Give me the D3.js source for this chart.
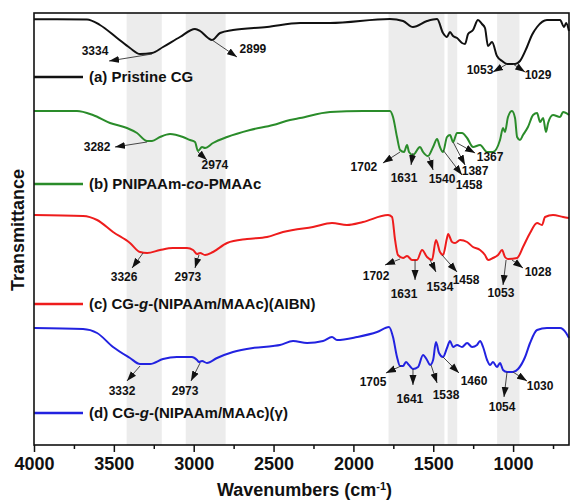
<!DOCTYPE html>
<html>
<head>
<meta charset="utf-8">
<script src="https://cdn.jsdelivr.net/npm/d3@7"></script>
<style>
  body { margin: 0; background: #fff; }
  svg text { font-family: "Liberation Sans", Arial, sans-serif; font-weight: bold; fill: #111; }
</style>
</head>
<body>
<div id="chart"></div>
<script>
// FTIR spectra, [wavenumber cm-1, transmittance a.u. (stacked)]
var pristineCG = [
  [4000,212.9],[3668,212.8],[3587,210],[3480,203.5],[3399,198.5],[3336,195.5],[3261,196],[3192,199],
  [3086,204],[2992,208],[2960,207],[2910,203.5],[2885,202.5],[2835,206],[2754,207.5],[2541,209],
  [2334,211],[2146,211],[1771,213],[1689,212],[1627,209],[1539,212],[1476,213],[1439,206],[1414,204],
  [1395,206.5],[1376,204.5],[1351,203.5],[1320,201],[1301,200.5],[1282,205.5],[1251,207.5],[1220,212.5],
  [1195,210.5],[1176,208.5],[1157,199.5],[1132,201.5],[1101,194.5],[1069,192],[1038,190.5],[988,190.5],
  [957,192],[913,199],[882,205],[850,209],[788,212.5],[706,212.5],[681,209],[668,211],[650,207]
];
var pnipaamPmaac = [
  [4000,167],[3731,167],[3631,165],[3524,161],[3418,158.5],[3355,156],[3292,152],[3261,152],[3211,154],
  [3148,155.5],[3067,154],[3023,152.5],[2992,151.5],[2973,147],[2948,149],[2929,148.5],[2879,151],
  [2791,154],[2647,157.5],[2503,160],[2397,162.5],[2334,163.5],[2146,166.5],[1940,167],[1771,167],
  [1752,164],[1727,154],[1708,147.5],[1683,146.5],[1664,150],[1652,146.5],[1627,145],[1583,149],
  [1564,146.5],[1533,144.5],[1501,149],[1476,153],[1458,149],[1439,146.5],[1414,154],[1395,155],
  [1376,151.5],[1351,156],[1320,156],[1288,153.5],[1251,149],[1207,150],[1163,146.5],[1126,146.5],
  [1082,152.5],[1063,158.5],[1051,156.5],[1032,164],[1007,167],[988,163.5],[975,154],[957,152.5],
  [938,155],[907,159],[875,165],[850,166],[831,161.5],[812,163.5],[794,156.5],[781,161],[750,165],
  [706,164],[687,166.5],[650,165]
];
var cgAibn = [
  [4000,115],[3693,114.5],[3605,112.5],[3505,106.5],[3399,101],[3336,96.5],[3292,96],[3211,97.5],
  [3130,98.5],[3042,98.5],[3004,97.5],[2979,95.5],[2960,96],[2929,95],[2879,96.5],[2791,101],[2666,103],
  [2541,104],[2441,106.5],[2378,107.5],[2253,109],[2134,111],[2040,110],[1940,111.5],[1783,115],
  [1758,114],[1739,102.5],[1721,95],[1689,93.5],[1664,94.5],[1633,92.5],[1602,92.5],[1570,97.5],
  [1539,94],[1508,92.5],[1483,102.5],[1458,96.5],[1439,95],[1414,103.5],[1407,105.5],[1382,101.5],
  [1363,101],[1332,102.5],[1288,101.5],[1251,99],[1207,97.5],[1176,95],[1157,92.5],[1126,93.5],
  [1094,95],[1069,97.5],[1051,94],[1032,93],[975,93.5],[938,99],[894,106],[850,111],[819,110],
  [800,114],[750,115],[687,114],[650,113.5]
];
var cgGamma = [
  [4000,58.5],[3693,58],[3605,56],[3505,49],[3399,43.5],[3336,40.5],[3274,40.5],[3192,43],[3105,44],
  [3011,44],[2979,42.5],[2967,41.5],[2948,42],[2917,41],[2854,43.5],[2754,46.5],[2629,48.5],[2503,49.5],
  [2460,50],[2378,52],[2290,51],[2190,52],[2134,54],[2103,52.5],[1977,54],[1852,56.5],[1777,59],
  [1752,54],[1727,44],[1708,39.5],[1689,39.5],[1671,41.5],[1652,40],[1627,38],[1595,39],[1564,45],
  [1539,42.5],[1520,40],[1501,42.5],[1483,51.5],[1464,46],[1439,44],[1414,48.5],[1395,52],[1376,49],
  [1351,50],[1320,49],[1288,51],[1257,49],[1226,50],[1207,52],[1188,49],[1163,42.5],[1144,40],
  [1126,41.5],[1101,39],[1082,41],[1063,37.5],[1038,36.5],[1001,36.5],[969,38],[925,44],[894,51],
  [850,57.5],[788,58.5],[706,58.5],[668,56],[650,53.5]
];

var seriesNames = ["(a) Pristine CG", "(b) PNIPAAm-co-PMAAc", "(c) CG-g-(NIPAAm/MAAc)(AIBN)", "(d) CG-g-(NIPAAm/MAAc)(\u03b3)"];
var seriesColors = ["#111111", "#2a8c2a", "#ee1c1c", "#2222e0"];
var legendLevels = [184, 130.5, 70.5, 16];

// shaded regions [from, to] cm-1
var bands = [[3420,3200],[3050,2800],[1780,1430],[1410,1350],[1100,960]];

var majorTicks = [4000,3500,3000,2500,2000,1500,1000];
var minorTicks = [3750,3250,2750,2250,1750,1250,750];

// peak labels: text, peak point, arrow tip, label centre
var peakLabels = [
  ["3334",[3261,195.5],[3530,192],[3618,197]],
  ["2899",[2885,202.5],[2729,194],[2629,198]],
  ["1053",[1038,190.5],[1126,186.5],[1207,187.5]],
  ["1029",[1001,190.5],[925,186.5],[844,185]],
  ["3282",[3292,151.5],[3493,149],[3605,149]],
  ["2974",[2973,146.5],[2917,142.5],[2867,140]],
  ["1702",[1708,146.5],[1815,141],[1934,139]],
  ["1631",[1627,146],[1639,140],[1683,133.5]],
  ["1540",[1527,144],[1501,137.5],[1445,133]],
  ["1458",[1439,147.5],[1320,135],[1276,130]],
  ["1387",[1376,151.5],[1301,140],[1238,137]],
  ["1367",[1351,151],[1238,146],[1144,144]],
  ["3326",[3317,96],[3386,88.5],[3436,84]],
  ["2973",[2967,95],[2992,88.5],[3036,84]],
  ["1702",[1708,93],[1802,90],[1858,84.5]],
  ["1631",[1614,92.5],[1614,82.5],[1683,75.5]],
  ["1534",[1520,92.5],[1483,86.5],[1458,79]],
  ["1458",[1445,95],[1351,86.5],[1295,82.5]],
  ["1053",[1044,92.5],[1063,80],[1076,76]],
  ["1028",[1007,92.5],[938,88.5],[844,86.5]],
  ["3332",[3336,39.5],[3418,32],[3449,27]],
  ["2973",[2960,41],[3017,32],[3054,27]],
  ["1705",[1702,39.5],[1796,36],[1877,31.5]],
  ["1641",[1627,38],[1627,30],[1646,23]],
  ["1538",[1514,40],[1476,31],[1420,25]],
  ["1460",[1439,44],[1339,36],[1245,32]],
  ["1054",[1038,36.5],[1057,24],[1069,19]],
  ["1030",[1001,36.5],[913,32],[831,29.5]]
];

var width = 570, height = 501;
var margin = { top: 13, right: 1, bottom: 56, left: 34 };
var w = width - margin.left - margin.right;
var h = height - margin.top - margin.bottom;

var svg = d3.select("#chart").append("svg")
  .attr("width", width)
  .attr("height", height);

var defs = svg.append("defs");
defs.append("marker")
  .attr("id", "arrow")
  .attr("markerUnits", "userSpaceOnUse")
  .attr("viewBox", "0 -4 10 8")
  .attr("refX", 10).attr("refY", 0)
  .attr("markerWidth", 10).attr("markerHeight", 8)
  .attr("orient", "auto")
  .append("path")
  .attr("d", "M0,-3.5L10,0L0,3.5Z")
  .attr("fill", "#111");

var g = svg.append("g").attr("transform", "translate(" + margin.left + "," + margin.top + ")");

var x = d3.scaleLinear().domain([4000, 650]).range([0, w]);
var y = d3.scaleLinear().domain([0, 216]).range([h, 0]);

// grey bands
g.selectAll("rect.band")
  .data(bands)
  .enter()
  .append("rect")
  .attr("class", "band")
  .attr("x", function (d) { return x(d[0]); })
  .attr("y", 0)
  .attr("width", function (d) { return x(d[1]) - x(d[0]); })
  .attr("height", h)
  .attr("fill", "#ececec");

// spectra
var line = d3.line()
  .x(function (d) { return x(d[0]); })
  .y(function (d) { return y(d[1]); })
  .curve(d3.curveMonotoneX);

var spectra = [pristineCG, pnipaamPmaac, cgAibn, cgGamma];
g.selectAll("path.spec")
  .data(spectra)
  .enter()
  .append("path")
  .attr("class", "spec")
  .attr("d", line)
  .attr("fill", "none")
  .attr("stroke", function (d, i) { return seriesColors[i]; })
  .attr("stroke-width", 2)
  .attr("stroke-linejoin", "round");

// legend rows
var legend = g.selectAll("g.leg")
  .data(seriesNames)
  .enter()
  .append("g")
  .attr("class", "leg")
  .attr("transform", function (d, i) { return "translate(0," + y(legendLevels[i]) + ")"; });
legend.append("line")
  .attr("x1", 0).attr("x2", 49)
  .attr("stroke", function (d, i) { return seriesColors[i]; })
  .attr("stroke-width", 2.5);
legend.append("text")
  .attr("x", 55)
  .attr("dy", "0.36em")
  .style("font-size", "15px")
  .each(function (d) {
    // italic connecting letters (co, g)
    var t = d3.select(this);
    var parts = d.split(/(-co-|-g-)/);
    parts.forEach(function (p) {
      if (p === "-co-" || p === "-g-") {
        t.append("tspan").text("-");
        t.append("tspan").style("font-style", "italic").text(p.slice(1, -1));
        t.append("tspan").text("-");
      } else {
        t.append("tspan").text(p);
      }
    });
  });

// peak arrows + labels
var peaks = g.selectAll("g.peak")
  .data(peakLabels)
  .enter()
  .append("g")
  .attr("class", "peak");
peaks.append("line")
  .attr("x1", function (d) { return x(d[1][0]); })
  .attr("y1", function (d) { return y(d[1][1]); })
  .attr("x2", function (d) { return x(d[2][0]); })
  .attr("y2", function (d) { return y(d[2][1]); })
  .attr("stroke", "#333")
  .attr("stroke-width", 0.9)
  .attr("marker-end", "url(#arrow)");
peaks.append("text")
  .attr("x", function (d) { return x(d[3][0]); })
  .attr("y", function (d) { return y(d[3][1]); })
  .attr("dy", "0.36em")
  .attr("text-anchor", "middle")
  .style("font-size", "12px")
  .text(function (d) { return d[0]; });

// axes
var xAxis = g.append("g")
  .attr("transform", "translate(0," + h + ")")
  .call(d3.axisBottom(x).tickValues(majorTicks).tickSize(7).tickPadding(5).tickFormat(d3.format("d")));
xAxis.select(".domain").remove();
xAxis.selectAll("line").attr("stroke", "#111").attr("stroke-width", 1.5);
xAxis.selectAll("text").style("font-size", "18px").attr("fill", "#111");

var xMinor = g.append("g")
  .attr("transform", "translate(0," + h + ")")
  .call(d3.axisBottom(x).tickValues(minorTicks).tickSize(4).tickFormat(""));
xMinor.select(".domain").remove();
xMinor.selectAll("line").attr("stroke", "#111").attr("stroke-width", 1.5);

// frame
g.append("rect")
  .attr("width", w).attr("height", h)
  .attr("fill", "none")
  .attr("stroke", "#111")
  .attr("stroke-width", 1.6);

// axis titles
var xt = svg.append("text")
  .attr("x", margin.left + w / 2 + 3)
  .attr("y", 496)
  .attr("text-anchor", "middle")
  .style("font-size", "18px");
xt.append("tspan").text("Wavenumbers (cm");
xt.append("tspan").attr("baseline-shift", "super").style("font-size", "11px").text("-1");
xt.append("tspan").text(")");

svg.append("text")
  .attr("transform", "translate(18," + 230 + ") rotate(-90)")
  .attr("dy", "0.36em")
  .attr("text-anchor", "middle")
  .style("font-size", "18px")
  .text("Transmittance");
</script>
</body>
</html>
